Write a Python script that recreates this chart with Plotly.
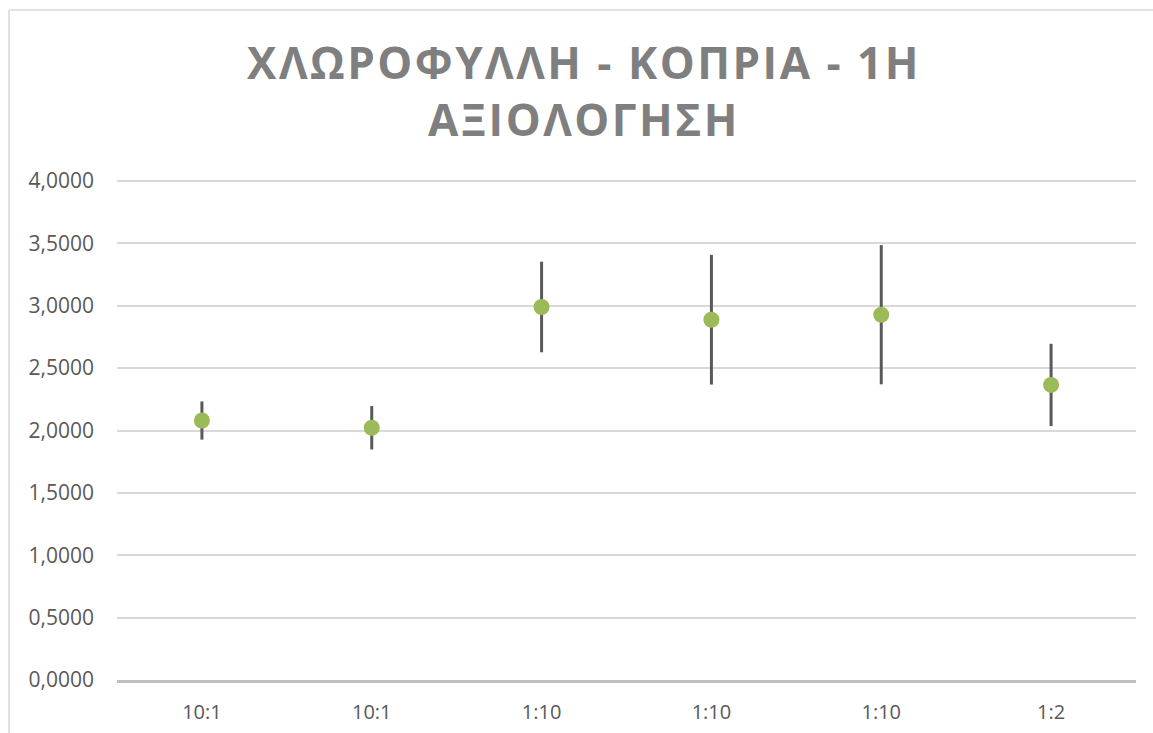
import plotly.graph_objects as go

# Chlorophyll readings per manure ratio (first assessment)
categories = ["10:1", "10:1", "1:10", "1:10", "1:10", "1:2"]
means = [2.080, 2.022, 2.990, 2.888, 2.928, 2.365]
errors = [0.153, 0.174, 0.363, 0.520, 0.558, 0.330]
y_ticks = [0, 0.5, 1.0, 1.5, 2.0, 2.5, 3.0, 3.5, 4.0]
y_tick_text = [f"{v:.4f}".replace(".", ",") for v in y_ticks]

positions = list(range(len(categories)))

fig = go.Figure()
fig.add_trace(go.Scatter(
    x=positions,
    y=means,
    mode="markers",
    marker=dict(color="#9BBB59", size=16, line=dict(width=0)),
    error_y=dict(type="data", array=errors, visible=True,
                 color="#595959", thickness=3, width=0),
    showlegend=False,
    hoverinfo="y",
    cliponaxis=False,
))

W, H = 1153, 733
L, R, T, B = 117, 17, 179, 53
pw, ph = W - L - R, H - T - B

def px_x(x):
    return (x - L) / pw

def px_y(y):
    return (H - B - y) / ph

# Thin frame around the chart (top and left edges visible)
frame = dict(type="line", xref="paper", yref="paper",
             line=dict(color="#d9d9d9", width=1.5), layer="below")
fig.add_shape(**frame, x0=px_x(9), y0=px_y(10), x1=px_x(W + 5), y1=px_y(10))
fig.add_shape(**frame, x0=px_x(9), y0=px_y(10), x1=px_x(9), y1=px_y(H + 5))

title_text = ("<span style='letter-spacing:2.5px'>ΧΛΩΡΟΦΥΛΛΗ - ΚΟΠΡΙΑ - 1Η</span><br>"
              "<span style='letter-spacing:2.5px'>ΑΞΙΟΛΟΓΗΣΗ</span>")

fig.update_layout(
    width=W, height=H,
    margin=dict(l=L, r=R, t=T, b=B),
    paper_bgcolor="white",
    plot_bgcolor="white",
    font=dict(family="Open Sans, sans-serif", color="#595959", size=21),
    title=dict(
        text=title_text,
        x=584 / W, xref="container", xanchor="center",
        y=1 - 79 / H, yref="container", yanchor="middle",
        font=dict(family="Open Sans, sans-serif", size=44, color="#7f7f7f",
                  weight="bold"),
    ),
    xaxis=dict(
        range=[-0.5, len(categories) - 0.5],
        tickmode="array", tickvals=positions, ticktext=categories,
        showgrid=False, zeroline=False,
        showline=True, linecolor="#bfbfbf", linewidth=3,
        ticks="", ticklabelstandoff=12,
        tickfont=dict(size=20, color="#595959"),
        automargin=False,
        fixedrange=True,
    ),
    yaxis=dict(
        range=[0, 4.016],
        tickmode="array", tickvals=y_ticks, ticktext=y_tick_text,
        showgrid=True, gridcolor="#d9d9d9", gridwidth=1.5,
        zeroline=False, showline=False,
        ticks="", ticklabelstandoff=22,
        tickfont=dict(size=21, color="#595959"),
        automargin=False,
        fixedrange=True,
    ),
)

fig.write_html("out.html")
